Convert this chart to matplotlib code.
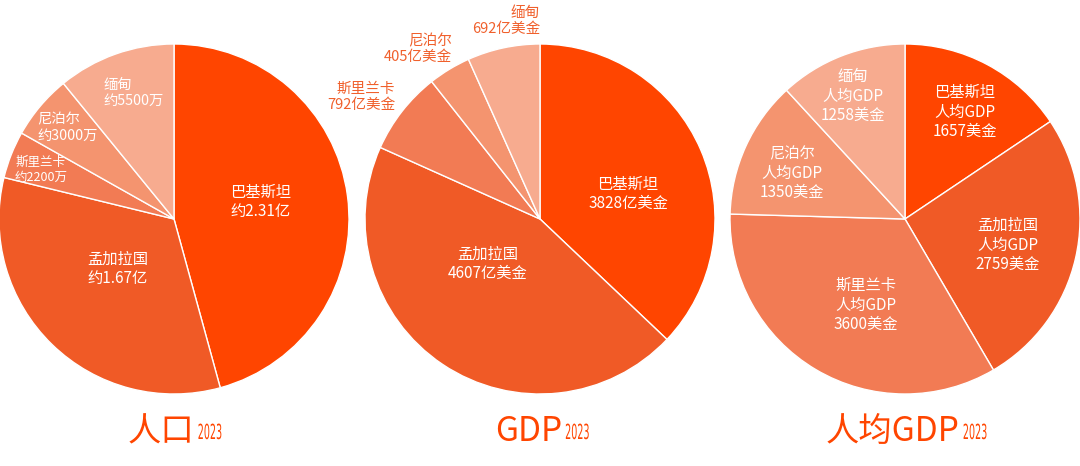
import matplotlib
matplotlib.use("Agg")
import matplotlib.pyplot as plt
from matplotlib.patheffects import AbstractPathEffect
from matplotlib.transforms import Affine2D

plt.rcParams['font.family'] = ['Noto Sans CJK SC', 'DejaVu Sans']

# ---------------- data ----------------
countries = ['巴基斯坦', '孟加拉国', '斯里兰卡', '尼泊尔', '缅甸']
population_wan = [23100, 16700, 2200, 3000, 5500]          # 万人
population_text = ['约2.31亿', '约1.67亿', '约2200万', '约3000万', '约5500万']
gdp_yi_usd = [3828, 4607, 792, 405, 692]                  # 亿美金
gdp_per_capita = [1657, 2759, 3600, 1350, 1258]           # 美金
titles = ['人口', 'GDP', '人均GDP']
year = '2023'

# ---------------- style ----------------
colors = ['#FF4500', '#F05A26', '#F27B54', '#F4946F', '#F7AB8F']
title_color = '#FF4500'
outside_color = '#F0602C'
W, H = 1080, 466


class Squeeze(AbstractPathEffect):
    """Draw text horizontally condensed (text stays a real Text object)."""

    def __init__(self, sx=0.5, sy=1.0):
        super().__init__()
        self.sx, self.sy = sx, sy

    def draw_path(self, renderer, gc, tpath, affine, rgbFace=None):
        renderer.draw_path(gc, tpath, Affine2D().scale(self.sx, self.sy) + affine, rgbFace)


fig = plt.figure(figsize=(W / 100, H / 100), dpi=100)
ax = fig.add_axes([0, 0, 1, 1])

centers_px = [(174, 219), (540, 219), (905, 219)]
radius = 175

datasets = [population_wan, gdp_yi_usd, gdp_per_capita]
for (cx, cy), vals in zip(centers_px, datasets):
    ax.pie(vals, colors=colors, startangle=90, counterclock=False,
           center=(cx, H - cy), radius=radius,
           wedgeprops=dict(edgecolor='white', linewidth=1.0))

ax.set_xlim(0, W)
ax.set_ylim(0, H)
ax.set_aspect('equal')
ax.axis('off')


def put(x, y, s, ha='center', size=11, color='white', ls=1.2):
    ax.text(x, H - y, s, ha=ha, va='center', fontsize=size, color=color,
            linespacing=ls, multialignment=ha)


# Pie 1 : population
p1_pos = [(261, 202, 'center', 11), (118, 269, 'center', 11),
          (15, 170, 'left', 9), (37, 128, 'left', 10.3), (103, 93, 'left', 10.3)]
for (x, y, ha, sz), c, t in zip(p1_pos, countries, population_text):
    put(x, y, f'{c}\n{t}', ha=ha, size=sz)

# Pie 2 : GDP
p2_pos = [(628, 194, 'center', 'white'), (488, 264, 'center', 'white'),
          (395, 97, 'right', outside_color), (452, 49, 'right', outside_color),
          (540, 21, 'right', outside_color)]
for (x, y, ha, col), c, v in zip(p2_pos, countries, gdp_yi_usd):
    sz = 11 if col == 'white' else 10.5
    put(x, y, f'{c}\n{v}亿美金', ha=ha, size=sz, color=col)

# Pie 3 : GDP per capita
p3_pos = [(965, 112), (1008, 245), (866, 305), (792, 173), (853, 96)]
for (x, y), c, v in zip(p3_pos, countries, gdp_per_capita):
    put(x, y, f'{c}\n人均GDP\n{v}美金', size=11)

# Titles
title_pos = [(128, 441), (495, 441), (826, 441)]
for (x, y), t in zip(title_pos, titles):
    tt = ax.text(x, H - y, t, ha='left', va='baseline', fontsize=24,
                 color=title_color)
    fig.canvas.draw()
    bb = tt.get_window_extent()
    ax.text(bb.x1 + 3, H - y + 2, year, ha='left', va='baseline', fontsize=15,
            color=title_color, family='DejaVu Sans',
            path_effects=[Squeeze(0.46, 1.0)])

fig.savefig('out.png', dpi=100)
